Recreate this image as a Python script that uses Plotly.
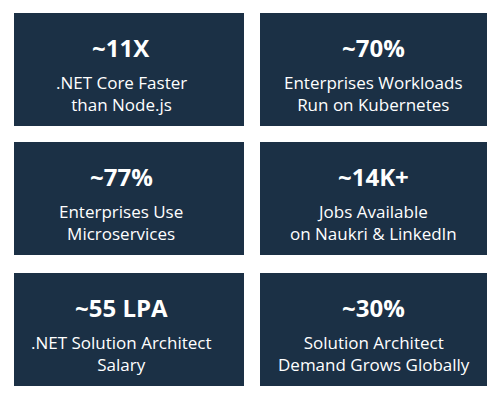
import plotly.graph_objects as go

stats = ["~11X", "~70%", "~77%", "~14K+", "~55 LPA", "~30%"]
captions = [
    ".NET Core Faster<br>than Node.js",
    "Enterprises Workloads<br>Run on Kubernetes",
    "Enterprises Use<br>Microservices",
    "Jobs Available<br>on Naukri & LinkedIn",
    ".NET Solution Architect<br>Salary",
    "Solution Architect<br>Demand Grows Globally",
]

box_color = "#1b3045"
col_x = [(14, 244), (260, 487)]
row_y = [(13, 126), (142, 255), (273, 386)]

fig = go.Figure()
for i, (stat, cap) in enumerate(zip(stats, captions)):
    x0, x1 = col_x[i % 2]
    y0, y1 = row_y[i // 2]
    cx = (x0 + x1) / 2 - (8 if i % 2 == 0 else 0)
    fig.add_shape(type="rect", x0=x0, x1=x1, y0=y0, y1=y1,
                  fillcolor=box_color, line=dict(width=0), layer="below")
    fig.add_annotation(x=cx, y=y0 + 34, text=f"<b>{stat}</b>", showarrow=False,
                       font=dict(family="Open Sans", size=24, color="white"))
    fig.add_annotation(x=cx, y=y0 + 80, text=cap, showarrow=False,
                       font=dict(family="Open Sans", size=17, color="white"))

# page body has an 8px margin, so shift the pixel frame to line up
fig.update_xaxes(range=[8, 508], visible=False)
fig.update_yaxes(range=[408, 8], visible=False)
fig.update_layout(width=500, height=400, margin=dict(l=0, r=0, t=0, b=0),
                  plot_bgcolor="white", paper_bgcolor="white", showlegend=False)
fig.write_html("out.html")
